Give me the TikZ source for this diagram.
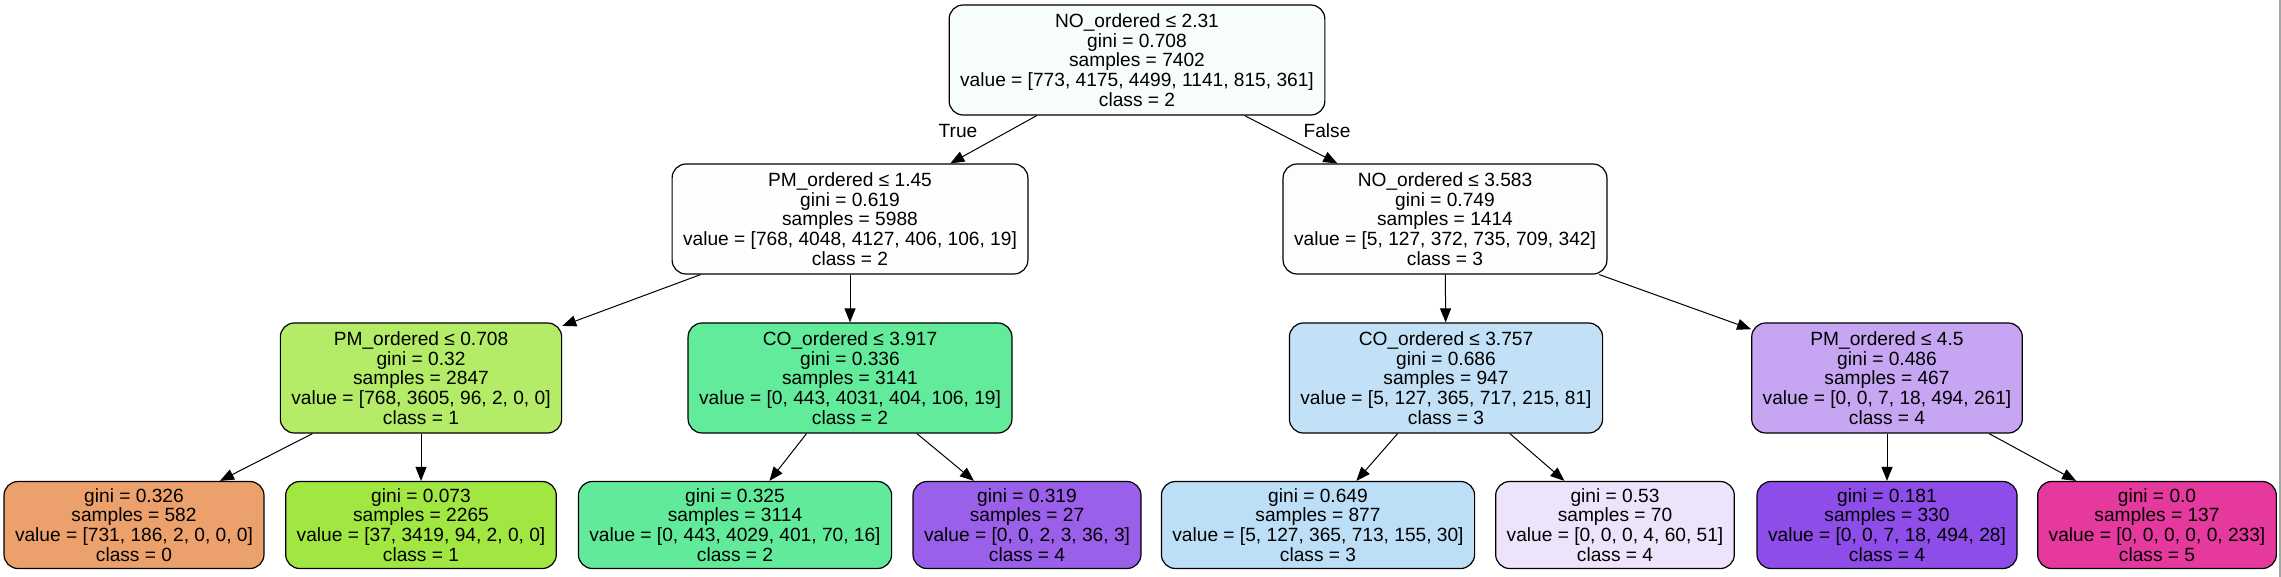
\documentclass[tikz,border=0pt]{standalone}
\usepackage{fontspec}
\setmainfont{Liberation Sans}
\usetikzlibrary{arrows.meta}
\definecolor{cA}{HTML}{F7FEF9}
\definecolor{cB}{HTML}{FCFFFD}
\definecolor{cC}{HTML}{FCFDFF}
\definecolor{cD}{HTML}{B4EB67}
\definecolor{cE}{HTML}{63EB9C}
\definecolor{cF}{HTML}{C2E1F7}
\definecolor{cG}{HTML}{C6A6F3}
\definecolor{cH}{HTML}{ECA16C}
\definecolor{cI}{HTML}{A1E641}
\definecolor{cJ}{HTML}{62EA9B}
\definecolor{cK}{HTML}{9A60EA}
\definecolor{cL}{HTML}{BCDEF6}
\definecolor{cM}{HTML}{EDE3FB}
\definecolor{cN}{HTML}{8E4DE8}
\definecolor{cO}{HTML}{E5399D}
\begin{document}
\begin{tikzpicture}[x=1pt,y=-1pt,
  tn/.style={draw=black, line width=1.2pt, rounded corners=14pt, align=center,
    inner xsep=11pt, inner ysep=0pt, font=\fontsize{19.15}{19.8}\selectfont},
  innernode/.style={tn, minimum height=110pt},
  leafnode/.style={tn, minimum height=87pt},
  edge/.style={-{Triangle[length=14pt,width=11pt]}, line width=1pt},
  lbl/.style={font=\fontsize{19.15}{19.8}\selectfont, inner sep=0pt}]
\useasboundingbox (0,0) rectangle (2281,577);
\fill[white] (0,0) rectangle (2281,577);
\draw[gray!70, line width=1.2pt] (2280,0) -- (2280,577);

\node[innernode, fill=cA] (n0) at (1137,60) {NO\_ordered ≤ 2.31\\gini = 0.708\\samples = 7402\\value = [773, 4175, 4499, 1141, 815, 361]\\class = 2};
\node[innernode, fill=cB] (n1) at (850,219) {PM\_ordered ≤ 1.45\\gini = 0.619\\samples = 5988\\value = [768, 4048, 4127, 406, 106, 19]\\class = 2};
\node[innernode, fill=cD] (n2) at (421,378) {PM\_ordered ≤ 0.708\\gini = 0.32\\samples = 2847\\value = [768, 3605, 96, 2, 0, 0]\\class = 1};
\node[leafnode, fill=cH] (n3) at (134,525) {gini = 0.326\\samples = 582\\value = [731, 186, 2, 0, 0, 0]\\class = 0};
\node[leafnode, fill=cI] (n4) at (421,525) {gini = 0.073\\samples = 2265\\value = [37, 3419, 94, 2, 0, 0]\\class = 1};
\node[innernode, fill=cE] (n5) at (850,378) {CO\_ordered ≤ 3.917\\gini = 0.336\\samples = 3141\\value = [0, 443, 4031, 404, 106, 19]\\class = 2};
\node[leafnode, fill=cJ] (n6) at (735,525) {gini = 0.325\\samples = 3114\\value = [0, 443, 4029, 401, 70, 16]\\class = 2};
\node[leafnode, fill=cK] (n7) at (1027,525) {gini = 0.319\\samples = 27\\value = [0, 0, 2, 3, 36, 3]\\class = 4};
\node[innernode, fill=cC] (n8) at (1445,219) {NO\_ordered ≤ 3.583\\gini = 0.749\\samples = 1414\\value = [5, 127, 372, 735, 709, 342]\\class = 3};
\node[innernode, fill=cF] (n9) at (1446,378) {CO\_ordered ≤ 3.757\\gini = 0.686\\samples = 947\\value = [5, 127, 365, 717, 215, 81]\\class = 3};
\node[leafnode, fill=cL] (n10) at (1318,525) {gini = 0.649\\samples = 877\\value = [5, 127, 365, 713, 155, 30]\\class = 3};
\node[leafnode, fill=cM] (n11) at (1615,525) {gini = 0.53\\samples = 70\\value = [0, 0, 0, 4, 60, 51]\\class = 4};
\node[innernode, fill=cG] (n12) at (1887,378) {PM\_ordered ≤ 4.5\\gini = 0.486\\samples = 467\\value = [0, 0, 7, 18, 494, 261]\\class = 4};
\node[leafnode, fill=cN] (n13) at (1887,525) {gini = 0.181\\samples = 330\\value = [0, 0, 7, 18, 494, 28]\\class = 4};
\node[leafnode, fill=cO] (n14) at (2157,525) {gini = 0.0\\samples = 137\\value = [0, 0, 0, 0, 0, 233]\\class = 5};

\node[lbl] (t) at (958,131) {True};
\node[lbl] (f) at (1327,131) {False};

\draw[edge] (n0) -- (n1);
\draw[edge] (n0) -- (n8);
\draw[edge] (n1) -- (n2);
\draw[edge] (n1) -- (n5);
\draw[edge] (n2) -- (n3);
\draw[edge] (n2) -- (n4);
\draw[edge] (n5) -- (n6);
\draw[edge] (n5) -- (n7);
\draw[edge] (n8) -- (n9);
\draw[edge] (n8) -- (n12);
\draw[edge] (n9) -- (n10);
\draw[edge] (n9) -- (n11);
\draw[edge] (n12) -- (n13);
\draw[edge] (n12) -- (n14);
\end{tikzpicture}
\end{document}
